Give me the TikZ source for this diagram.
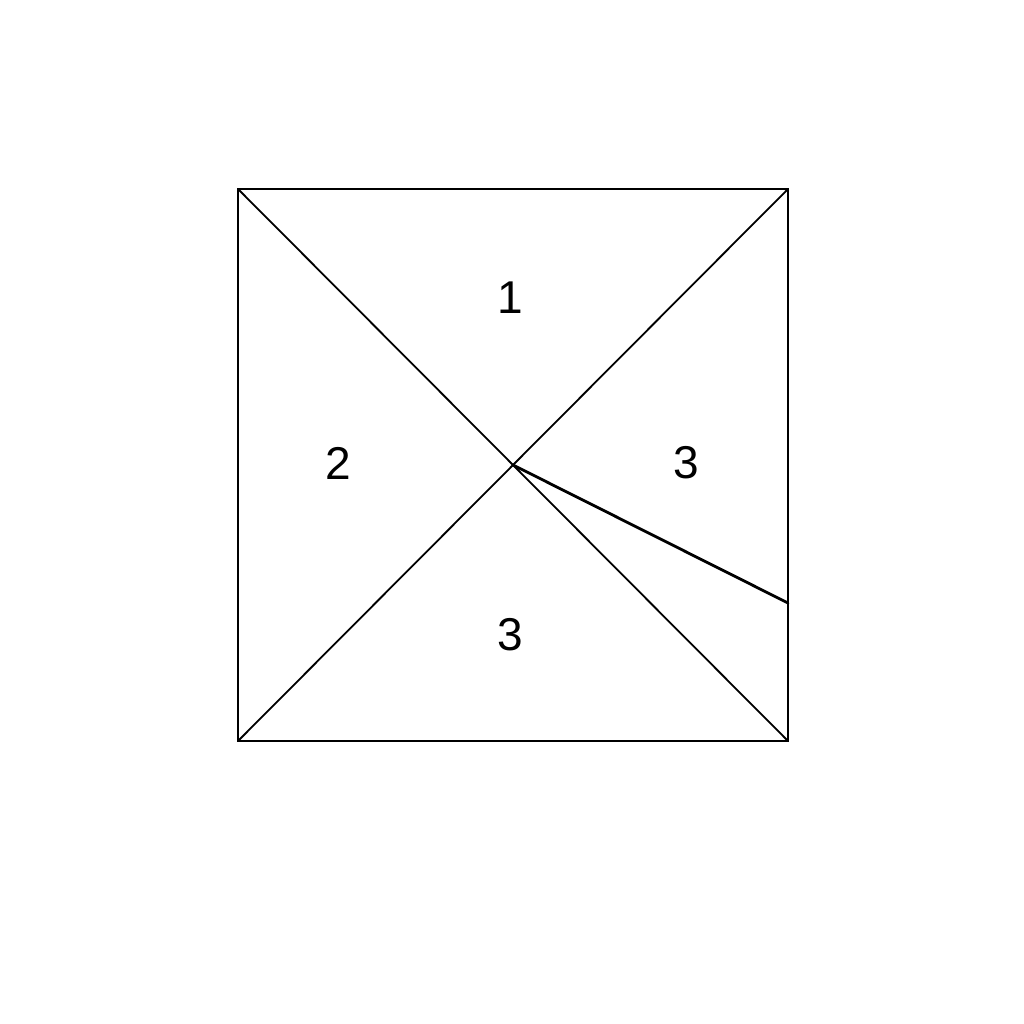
\documentclass[tikz,border=0pt]{standalone}
\usepackage{fontspec}
\setmainfont{Liberation Sans}
\begin{document}
\begin{tikzpicture}[x=1pt,y=-1pt,
  edge/.style={line width=1.8pt,black},
  thick edge/.style={line width=2.8pt,black},
  lbl/.style={font=\fontsize{46}{46}\selectfont,inner sep=0pt}]
\useasboundingbox (0,0) rectangle (1024,1024);
\coordinate (A) at (238,189);
\coordinate (B) at (788,189);
\coordinate (C) at (788,741);
\coordinate (D) at (238,741);
\coordinate (O) at (513,465);
\coordinate (E) at (788,603);
\draw[edge] (A) -- (B) -- (C) -- (D) -- cycle;
\draw[edge] (A) -- (C);
\draw[edge] (B) -- (D);
\draw[thick edge,line cap=round] (O) -- (E);
\node[lbl] (n1) at (510,298) {1};
\node[lbl] (n2) at (338,463) {2};
\node[lbl] (n3) at (686,463) {3};
\node[lbl] (n4) at (510,635) {3};
\end{tikzpicture}
\end{document}
